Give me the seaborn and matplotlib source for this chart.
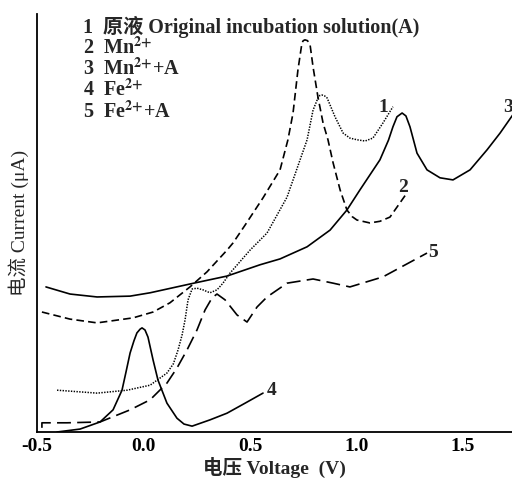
import matplotlib
matplotlib.use("Agg")
import matplotlib.pyplot as plt
import seaborn as sns
import pandas as pd

# ---- data (voltage in V, current in arbitrary units) ----
v1 = [-0.406, -0.218, -0.077, 0.031, 0.110, 0.140, 0.162, 0.181, 0.195, 0.209, 0.228, 0.251, 0.279,
      0.312, 0.345, 0.373, 0.406, 0.500, 0.580, 0.674, 0.735, 0.768, 0.796, 0.819, 0.828, 0.838,
      0.850, 0.862, 0.899, 0.937, 0.969, 1.002, 1.040, 1.077, 1.124, 1.171]
i1 = [10.0, 9.3, 10.0, 11.2, 14.1, 16.3, 19.6, 23.2, 26.8, 31.6, 34.2, 34.4, 34.0,
      33.3, 34.0, 35.6, 38.0, 43.5, 47.6, 56.2, 65.1, 69.9, 77.0, 79.9, 80.5, 80.6,
      80.4, 79.9, 75.4, 71.5, 70.3, 69.9, 69.6, 70.3, 73.9, 77.8]

v2 = [-0.477, -0.345, -0.218, -0.049, 0.045, 0.124, 0.218, 0.298, 0.392, 0.420, 0.477, 0.561,
      0.641, 0.678, 0.702, 0.725, 0.744, 0.750, 0.758, 0.770, 0.782, 0.796, 0.819, 0.843, 0.866,
      0.890, 0.923, 0.955, 0.980, 1.002, 1.063, 1.110, 1.157, 1.237]
i2 = [28.7, 27.0, 26.1, 27.3, 28.7, 30.9, 34.7, 38.3, 43.5, 45.2, 49.5, 56.0,
      62.7, 69.9, 76.3, 86.6, 93.1, 93.6, 93.8, 93.6, 92.6, 87.3, 80.1, 73.9, 69.9,
      64.4, 57.9, 53.1, 51.5, 50.7, 50.0, 50.4, 51.4, 57.2]

v3 = [-0.458, -0.345, -0.218, -0.063, 0.031, 0.218, 0.392, 0.547, 0.641, 0.768, 0.876, 0.955,
      1.016, 1.110, 1.150, 1.171, 1.190, 1.214, 1.232, 1.251, 1.284, 1.331, 1.392, 1.453, 1.533,
      1.613, 1.674, 1.744]
i3 = [34.7, 33.0, 32.3, 32.5, 33.3, 35.4, 37.3, 40.0, 41.4, 44.3, 48.3, 53.1,
      57.9, 65.1, 69.8, 73.0, 75.4, 76.3, 75.6, 73.0, 66.7, 62.7, 60.8, 60.3, 62.7,
      67.5, 71.5, 76.6]

v4 = [-0.406, -0.298, -0.204, -0.143, -0.101, -0.082, -0.063, -0.045, -0.031, -0.016, -0.007,
      0.007, 0.021, 0.045, 0.068, 0.110, 0.157, 0.190, 0.228, 0.312, 0.392, 0.477, 0.561]
i4 = [0.0, 0.7, 2.4, 5.3, 10.0, 14.4, 18.9, 21.8, 23.7, 24.6, 24.9,
      24.4, 22.7, 17.2, 12.4, 6.9, 3.3, 1.9, 1.4, 2.9, 4.5, 6.9, 9.3]

v5 = [-0.477, -0.477, -0.359, -0.204, -0.063, 0.031, 0.110, 0.157, 0.204, 0.251, 0.289, 0.322,
      0.345, 0.383, 0.439, 0.486, 0.533, 0.580, 0.674, 0.796, 0.890, 0.969, 1.124, 1.331]
i5 = [1.0, 2.2, 2.2, 2.4, 5.3, 7.7, 11.7, 15.3, 19.6, 24.4, 29.2, 32.1,
      33.0, 31.6, 28.0, 26.3, 29.9, 32.3, 35.6, 36.6, 35.6, 34.7, 37.1, 42.8]

curve_ids = ["1", "2", "3", "4", "5"]
legend_labels = [
    "1  原液 Original incubation solution(A)",
    r"2  Mn$^{\mathbf{2{+}}}$",
    r"3  Mn$^{\mathbf{2{+}}}$+A",
    r"4  Fe$^{\mathbf{2{+}}}$",
    r"5  Fe$^{\mathbf{2{+}}}$+A",
]
xticks = [-0.5, 0.0, 0.5, 1.0, 1.5]
xticklabels = ["-0.5", "0.0", "0.5", "1.0", "1.5"]
xlabel = "电压 Voltage  (V)"
ylabel = "电流 Current (μA)"

# ---- styling ----
sns.set_theme(style="white")
plt.rcParams["font.family"] = ["Liberation Serif", "Noto Sans CJK SC"]
plt.rcParams["mathtext.fontset"] = "stix"
plt.rcParams["lines.scale_dashes"] = False
plt.rcParams["lines.solid_joinstyle"] = "round"
plt.rcParams["lines.dash_joinstyle"] = "round"

fig = plt.figure(figsize=(5.12, 4.8), dpi=100)
ax = fig.add_axes([0.0723, 0.1, 0.9277, 0.871])

series = [(v1, i1), (v2, i2), (v3, i3), (v4, i4), (v5, i5)]
styles = [
    dict(lw=1.1, ls=(0, (1.0, 1.0))),
    dict(lw=1.2, ls=(0, (5.5, 3.0))),
    dict(lw=1.2, ls="-"),
    dict(lw=1.2, ls="-"),
    dict(lw=1.2, ls=(0, (10.0, 4.5))),
]
for cid, (vx, iy), st in zip(curve_ids, series, styles):
    df = pd.DataFrame({"V": vx, "I": iy})
    sns.lineplot(data=df, x="V", y="I", ax=ax, color="black", sort=False,
                 estimator=None, linewidth=st["lw"])
    ax.lines[-1].set_linestyle(st["ls"])

ax.set_xlim(-0.5, 1.73)
ax.set_ylim(0, 100)
ax.set_xticks(xticks)
ax.set_xticklabels(xticklabels, fontsize=14, fontweight="bold")
ax.set_yticks([])
ax.tick_params(axis="x", direction="in", length=5, width=1.0, pad=4, colors="black")
for s in ["top", "right"]:
    ax.spines[s].set_visible(False)
for s in ["left", "bottom"]:
    ax.spines[s].set_color("black")
    ax.spines[s].set_linewidth(1.3)

ax.set_xlabel(xlabel, fontsize=14, fontweight="bold", labelpad=2)
ax.set_ylabel(ylabel, fontsize=14, labelpad=6)

# legend-like text block
leg_y = [95.5, 90.4, 85.4, 80.4, 75.1]
for lab, yy in zip(legend_labels, leg_y):
    ax.text(-0.284, yy, lab, fontsize=14.5, fontweight="bold", va="baseline", ha="left")

# curve number labels
lab_pos = [(1.124, 77.5), (1.218, 58.5), (1.711, 77.5), (0.603, 10.0), (1.359, 43.0)]
for cid, (lx, ly) in zip(curve_ids, lab_pos):
    ax.text(lx, ly, cid, fontsize=14, fontweight="bold", ha="center", va="center",
            clip_on=False)

fig.savefig("out.png", dpi=100)
